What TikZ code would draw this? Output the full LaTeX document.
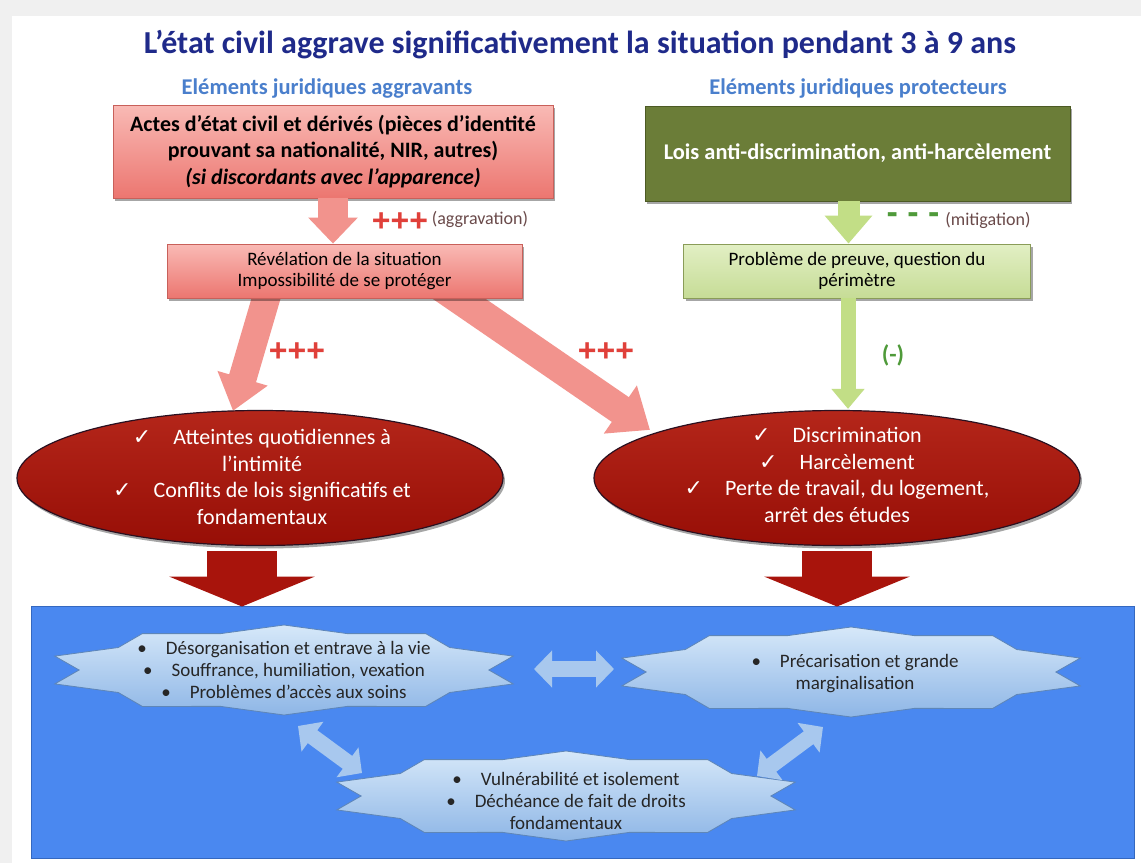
\documentclass[tikz,border=0pt]{standalone}
\usepackage{fontspec}
\setmainfont{Carlito}
\newfontfamily\dejavu{DejaVu Sans}
\newfontfamily\arialf{Liberation Sans}
\usetikzlibrary{shapes.geometric,arrows.meta,calc,shadows}
\pgfdeclarelayer{back}
\pgfdeclarelayer{bg}
\pgfsetlayers{back,bg,main}
\definecolor{navy}{HTML}{1F2A8A}
\definecolor{subblue}{HTML}{4A7FCC}
\definecolor{redlt}{HTML}{F9BAB5}
\definecolor{redmd}{HTML}{EC7670}
\definecolor{redbd}{HTML}{C8605A}
\definecolor{redarr}{HTML}{F2938D}
\definecolor{olive}{HTML}{6B7D38}
\definecolor{olivebd}{HTML}{4C5A24}
\definecolor{greenlt}{HTML}{E2EFC4}
\definecolor{greenmd}{HTML}{C6DC96}
\definecolor{greenbd}{HTML}{8A9C58}
\definecolor{garrow}{HTML}{C2DE86}
\definecolor{darkred}{HTML}{970E06}
\definecolor{darkred2}{HTML}{B4261A}
\definecolor{ellbd}{HTML}{2A1020}
\definecolor{bigred}{HTML}{A8140C}
\definecolor{bluebg}{HTML}{4A88F0}
\definecolor{bluebd}{HTML}{3468C0}
\definecolor{starlt}{HTML}{D6E8F9}
\definecolor{starmd}{HTML}{8EB6E6}
\definecolor{starbd}{HTML}{5E86B8}
\definecolor{starsh}{HTML}{2F4F86}
\definecolor{dblarrow}{HTML}{A8C8EE}
\definecolor{plusred}{HTML}{E0403A}
\definecolor{minusgreen}{HTML}{4F9A3A}
\definecolor{notegray}{HTML}{6A4A4A}
\newcommand\fs[2]{\fontsize{#1}{#2}\selectfont}
\newcommand\ck{{\dejavu ✓}\quad}
\newcommand\bl{•\quad}
\newcommand\starpath[1]{($(#1)+(90:241 and 45)$) \foreach \k in {0,...,9}{ -- ($(#1)+({108+36*\k}:204.85 and 38.25)$) -- ($(#1)+({126+36*\k}:241 and 45)$)} -- cycle}
\begin{document}
\begin{tikzpicture}[x=1pt,y=-1pt,
  titletext/.style={font=\fs{32}{36}\bfseries, text=navy},
  subtext/.style={font=\fs{22.5}{26}\bfseries, text=subblue},
  redbox/.style={rectangle, top color=redlt, bottom color=redmd, draw=redbd, line width=0.8pt, align=center, inner sep=4pt,
     drop shadow={shadow xshift=2pt,shadow yshift=-3pt,opacity=0.35,fill=black}},
  greenbox/.style={rectangle, top color=greenlt, bottom color=greenmd, draw=greenbd, line width=0.8pt, align=center, inner sep=4pt,
     drop shadow={shadow xshift=2pt,shadow yshift=-3pt,opacity=0.35,fill=black}},
  olivebox/.style={rectangle, fill=olive, draw=olivebd, line width=0.8pt, align=center, inner sep=4pt, text=white,
     drop shadow={shadow xshift=2pt,shadow yshift=-3pt,opacity=0.35,fill=black}},
  redell/.style={ellipse, top color=darkred2, bottom color=darkred, draw=ellbd, line width=1.2pt, minimum width=486pt, minimum height=135pt,
     drop shadow={shadow xshift=2pt,shadow yshift=-3pt,opacity=0.35,fill=black}},
  elltext/.style={align=center, text=white, font=\fs{22}{26.5}},
  startext/.style={align=center, text=black!85, font=\fs{19}{22}},
  redarrow/.style={draw=redarr, line cap=butt},
  greenarrow/.style={draw=garrow, line cap=butt},
  bigarrow/.style={draw=bigred, line width=70pt, -{Triangle[width=145pt,length=30pt]}},
  dblarrowst/.style={draw=dblarrow, line width=16pt, {Triangle[width=36pt,length=18pt]}-{Triangle[width=36pt,length=18pt]}},
  plus/.style={font=\arialf\fs{32}{32}\bfseries, text=plusred},
  note/.style={font=\fs{18}{20}, text=notegray},
  starfill/.style={top color=starlt, bottom color=starmd, draw=starbd, line width=0.8pt},
  starshadow/.style={fill=starsh, opacity=0.55}
]
\useasboundingbox (0,0) rectangle (1141,863);
\begin{pgfonlayer}{back}
\fill[gray!12] (0,0) rectangle (1141,863);
\fill[white] (12,16) rectangle (1141,863);
\end{pgfonlayer}

% titles
\node[titletext] (title) at (580,45) {L’état civil aggrave significativement la situation pendant 3 à 9 ans};
\node[subtext] (sub1) at (327,89) {Eléments juridiques aggravants};
\node[subtext] (sub2) at (858,89) {Eléments juridiques protecteurs};

% top boxes
\node[redbox, minimum width=440pt, minimum height=93pt, font=\fs{22}{26.5}\bfseries] (rb1) at (333,151.5)
  {Actes d’état civil et dérivés (pièces d’identité\\prouvant sa nationalité, NIR, autres)\\\textit{(si discordants avec l’apparence)}};
\node[olivebox, minimum width=425pt, minimum height=95pt, font=\fs{22.4}{26}\bfseries] (gb1) at (857.5,153.5)
  {Lois anti-discrimination, anti-harcèlement};

% second boxes
\node[redbox, minimum width=355pt, minimum height=54pt, font=\fs{19}{21}] (rb2) at (344.5,271)
  {Révélation de la situation\\Impossibilité de se protéger};
\node[greenbox, minimum width=347pt, minimum height=54pt, font=\fs{19}{21}] (gb2) at (857,271)
  {Problème de preuve, question du\\périmètre};

% ellipses
\node[redell] (e1) at (260,478) {};
\node[redell] (e2) at (837,478) {};
\node[elltext] (t1) at (262,477) {\ck Atteintes quotidiennes à\\l’intimité\\\ck Conflits de lois significatifs et\\fondamentaux};
\node[elltext] (t2) at (837,475) {\ck Discrimination\\\ck Harcèlement\\\ck Perte de travail, du logement,\\arrêt des études};

% arrows behind boxes
\coordinate (ra1) at ([xshift=-74.5pt,yshift=-14pt]rb2.center);
\coordinate (ra1e) at ([xshift=-27pt,yshift=-1pt]e1.north);
\coordinate (ra2) at ([xshift=94.5pt,yshift=-14pt]rb2.center);
\coordinate (ra2e) at ([xshift=-187pt,yshift=-20pt]e2.north);
\begin{pgfonlayer}{bg}
\draw[redarrow, line width=28pt, -{Triangle[width=50pt,length=34pt]}] (ra1) -- (ra1e);
\draw[redarrow, line width=30pt, -{Triangle[width=56pt,length=36pt]}] (ra2) -- (ra2e);
\end{pgfonlayer}

% vertical arrows
\draw[redarrow, line width=30pt, -{Triangle[width=48pt,length=26pt]}] (rb1.south) -- (rb1.south |- rb2.north);
\coordinate (ga1) at ([xshift=-9pt]gb1.south);
\draw[greenarrow, line width=22pt, -{Triangle[width=46pt,length=28pt]}] (ga1) -- (ga1 |- gb2.north);
\coordinate (ga2) at ([xshift=-9pt]gb2.south);
\draw[greenarrow, line width=15pt, -{Triangle[width=32pt,length=20pt]}] (ga2) -- ([yshift=1pt]ga2 |- e2.north);

% labels
\node[plus] (p1) at (400,222) {+++};
\node[note] (n1) at (480,219) {(aggravation)};
\node[font=\arialf\fs{34}{34}\bfseries, text=minusgreen] (m1) at (913,218) {- - -};
\node[note] (n2) at (988,220) {(mitigation)};
\node[plus] (p2) at (297,352) {+++};
\node[plus] (p3) at (606,352) {+++};
\node[font=\fs{24}{26}\bfseries, text=minusgreen] (m2) at (893,355) {(-)};

% blue area
\node[rectangle, fill=bluebg, draw=bluebd, line width=1pt, minimum width=1103pt, minimum height=252pt] (blue) at (582.5,732) {};

% big arrows
\coordinate (ba1) at ([xshift=-18pt,yshift=-5pt]e1.south);
\coordinate (ba2) at ([yshift=-5pt]e2.south);
\draw[bigarrow] (ba1) -- ([yshift=-1pt]ba1 |- blue.north);
\draw[bigarrow] (ba2) -- ([yshift=-1pt]ba2 |- blue.north);

% stars
\coordinate (c1) at (284,670);
\coordinate (c2) at (851,672);
\coordinate (c3) at (566,796);
\foreach \c in {c1,c2,c3}{
  \path[starshadow, shift={(3pt,-4pt)}] \starpath{\c};
  \path[starfill] \starpath{\c};
}
\node[startext] (s1) at (c1) {\bl Désorganisation et entrave à la vie\\\bl Souffrance, humiliation, vexation\\\bl Problèmes d’accès aux soins};
\node[startext] (s2) at (855,673.5) {\bl Précarisation et grande\\marginalisation};
\node[startext] (s3) at (566,800.5) {\bl Vulnérabilité et isolement\\\bl Déchéance de fait de droits\\fondamentaux};

% double arrows
\coordinate (da1) at (534,669);
\coordinate (da2) at (614,669);
\coordinate (db1) at (298,726);
\coordinate (db2) at (362,773);
\coordinate (dc1) at (757,776);
\coordinate (dc2) at (823,727);
\draw[dblarrowst] (da1) -- (da2);
\draw[dblarrowst] (db1) -- (db2);
\draw[dblarrowst] (dc1) -- (dc2);
\end{tikzpicture}
\end{document}
